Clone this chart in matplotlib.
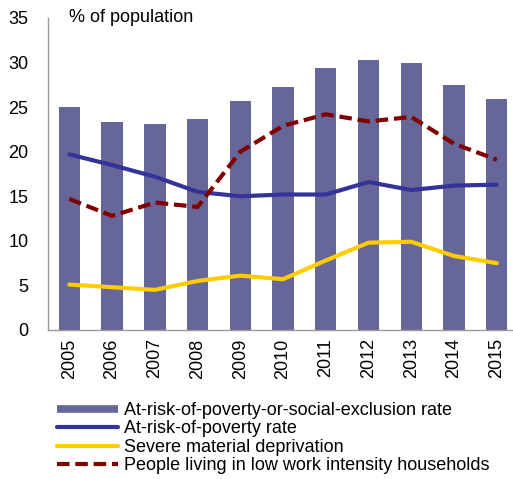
import matplotlib
matplotlib.use("Agg")
import matplotlib.pyplot as plt
from matplotlib.lines import Line2D

years = ["2005", "2006", "2007", "2008", "2009", "2010", "2011", "2012", "2013", "2014", "2015"]
arope = [25.0, 23.3, 23.1, 23.7, 25.7, 27.3, 29.4, 30.3, 29.9, 27.5, 25.9]
arop = [19.7, 18.5, 17.2, 15.5, 15.0, 15.2, 15.2, 16.6, 15.7, 16.2, 16.3]
smd = [5.1, 4.8, 4.5, 5.5, 6.1, 5.7, 7.8, 9.8, 9.9, 8.3, 7.5]
lwi = [14.7, 12.8, 14.3, 13.8, 20.0, 22.9, 24.2, 23.4, 23.9, 20.9, 19.1]

plt.rcParams['font.family'] = ['Liberation Sans', 'DejaVu Sans']

fig = plt.figure(figsize=(5.13, 4.79), dpi=100)
ax = fig.add_axes([48/513, 1 - 330/479, (513 - 48)/513, (330 - 18)/479])

x = list(range(len(years)))
ax.bar(x, arope, width=0.5, color="#666699", zorder=2)
ax.plot(x, arop, color="#333399", lw=3, zorder=3, solid_capstyle="round")
ax.plot(x, smd, color="#FFCC00", lw=3, zorder=3, solid_capstyle="round")
ax.plot(x, lwi, color="#800000", lw=3, ls=(0, (3, 1.4)), zorder=4)

ax.set_ylim(0, 35)
ax.set_xlim(-0.5, 10.38)
ax.set_yticks(range(0, 36, 5))
ax.set_xticks(x)
ax.set_xticklabels(years, rotation=90, fontsize=13)
ax.tick_params(axis='y', labelsize=13, length=0, pad=14)
ax.tick_params(axis='x', length=0, pad=6)
for s in ["top", "right"]:
    ax.spines[s].set_visible(False)
for s in ["left", "bottom"]:
    ax.spines[s].set_color("#999999")
    ax.spines[s].set_linewidth(1)

ax.text(0.045, 1.0, "% of population", transform=ax.transAxes, fontsize=13,
        va="center", ha="left")

handles = [
    Line2D([0], [0], color="#666699", lw=5.5, solid_capstyle="butt"),
    Line2D([0], [0], color="#333399", lw=3, solid_capstyle="round"),
    Line2D([0], [0], color="#FFCC00", lw=3, solid_capstyle="round"),
    Line2D([0], [0], color="#800000", lw=3, ls=(0, (3, 1.4))),
]
labels = ["At-risk-of-poverty-or-social-exclusion rate", "At-risk-of-poverty rate",
          "Severe material deprivation", "People living in low work intensity households"]
fig.legend(handles, labels, loc="upper left", bbox_to_anchor=(57/513, 1 - 402/479),
           frameon=False, fontsize=13, handlelength=3.4, handletextpad=0.3,
           labelspacing=0.08, borderpad=0, borderaxespad=0)

fig.savefig("out.png", dpi=100)
